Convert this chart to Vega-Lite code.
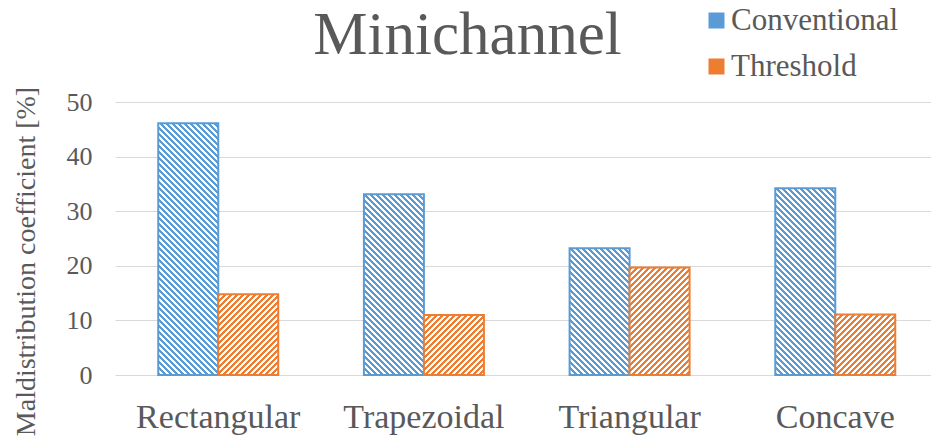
{
  "$schema": "https://vega.github.io/schema/vega-lite/v6.json",
  "width": 816,
  "height": 273,
  "autosize": {"type": "none"},
  "padding": {"left": 115, "top": 102, "right": 0, "bottom": 62},
  "background": "white",
  "params": [
    {"name": "hs", "value": [
      {"offset":0,"color":"transparent"},{"offset":0.009375,"color":"transparent"},{"offset":0.009375,"color":"#fff"},{"offset":0.01875,"color":"#fff"},
      {"offset":0.01875,"color":"transparent"},{"offset":0.028125,"color":"transparent"},{"offset":0.028125,"color":"#fff"},{"offset":0.0375,"color":"#fff"},
      {"offset":0.0375,"color":"transparent"},{"offset":0.046875,"color":"transparent"},{"offset":0.046875,"color":"#fff"},{"offset":0.05625,"color":"#fff"},
      {"offset":0.05625,"color":"transparent"},{"offset":0.065625,"color":"transparent"},{"offset":0.065625,"color":"#fff"},{"offset":0.075,"color":"#fff"},
      {"offset":0.075,"color":"transparent"},{"offset":0.084375,"color":"transparent"},{"offset":0.084375,"color":"#fff"},{"offset":0.09375,"color":"#fff"},
      {"offset":0.09375,"color":"transparent"},{"offset":0.103125,"color":"transparent"},{"offset":0.103125,"color":"#fff"},{"offset":0.1125,"color":"#fff"},
      {"offset":0.1125,"color":"transparent"},{"offset":0.121875,"color":"transparent"},{"offset":0.121875,"color":"#fff"},{"offset":0.13125,"color":"#fff"},
      {"offset":0.13125,"color":"transparent"},{"offset":0.140625,"color":"transparent"},{"offset":0.140625,"color":"#fff"},{"offset":0.15,"color":"#fff"},
      {"offset":0.15,"color":"transparent"},{"offset":0.159375,"color":"transparent"},{"offset":0.159375,"color":"#fff"},{"offset":0.16875,"color":"#fff"},
      {"offset":0.16875,"color":"transparent"},{"offset":0.178125,"color":"transparent"},{"offset":0.178125,"color":"#fff"},{"offset":0.1875,"color":"#fff"},
      {"offset":0.1875,"color":"transparent"},{"offset":0.196875,"color":"transparent"},{"offset":0.196875,"color":"#fff"},{"offset":0.20625,"color":"#fff"},
      {"offset":0.20625,"color":"transparent"},{"offset":0.215625,"color":"transparent"},{"offset":0.215625,"color":"#fff"},{"offset":0.225,"color":"#fff"},
      {"offset":0.225,"color":"transparent"},{"offset":0.234375,"color":"transparent"},{"offset":0.234375,"color":"#fff"},{"offset":0.24375,"color":"#fff"},
      {"offset":0.24375,"color":"transparent"},{"offset":0.253125,"color":"transparent"},{"offset":0.253125,"color":"#fff"},{"offset":0.2625,"color":"#fff"},
      {"offset":0.2625,"color":"transparent"},{"offset":0.271875,"color":"transparent"},{"offset":0.271875,"color":"#fff"},{"offset":0.28125,"color":"#fff"},
      {"offset":0.28125,"color":"transparent"},{"offset":0.290625,"color":"transparent"},{"offset":0.290625,"color":"#fff"},{"offset":0.3,"color":"#fff"},
      {"offset":0.3,"color":"transparent"},{"offset":0.309375,"color":"transparent"},{"offset":0.309375,"color":"#fff"},{"offset":0.31875,"color":"#fff"},
      {"offset":0.31875,"color":"transparent"},{"offset":0.328125,"color":"transparent"},{"offset":0.328125,"color":"#fff"},{"offset":0.3375,"color":"#fff"},
      {"offset":0.3375,"color":"transparent"},{"offset":0.346875,"color":"transparent"},{"offset":0.346875,"color":"#fff"},{"offset":0.35625,"color":"#fff"},
      {"offset":0.35625,"color":"transparent"},{"offset":0.365625,"color":"transparent"},{"offset":0.365625,"color":"#fff"},{"offset":0.375,"color":"#fff"},
      {"offset":0.375,"color":"transparent"},{"offset":0.384375,"color":"transparent"},{"offset":0.384375,"color":"#fff"},{"offset":0.39375,"color":"#fff"},
      {"offset":0.39375,"color":"transparent"},{"offset":0.403125,"color":"transparent"},{"offset":0.403125,"color":"#fff"},{"offset":0.4125,"color":"#fff"},
      {"offset":0.4125,"color":"transparent"},{"offset":0.421875,"color":"transparent"},{"offset":0.421875,"color":"#fff"},{"offset":0.43125,"color":"#fff"},
      {"offset":0.43125,"color":"transparent"},{"offset":0.440625,"color":"transparent"},{"offset":0.440625,"color":"#fff"},{"offset":0.45,"color":"#fff"},
      {"offset":0.45,"color":"transparent"},{"offset":0.459375,"color":"transparent"},{"offset":0.459375,"color":"#fff"},{"offset":0.46875,"color":"#fff"},
      {"offset":0.46875,"color":"transparent"},{"offset":0.478125,"color":"transparent"},{"offset":0.478125,"color":"#fff"},{"offset":0.4875,"color":"#fff"},
      {"offset":0.4875,"color":"transparent"},{"offset":0.496875,"color":"transparent"},{"offset":0.496875,"color":"#fff"},{"offset":0.50625,"color":"#fff"},
      {"offset":0.50625,"color":"transparent"},{"offset":0.515625,"color":"transparent"},{"offset":0.515625,"color":"#fff"},{"offset":0.525,"color":"#fff"},
      {"offset":0.525,"color":"transparent"},{"offset":0.534375,"color":"transparent"},{"offset":0.534375,"color":"#fff"},{"offset":0.54375,"color":"#fff"},
      {"offset":0.54375,"color":"transparent"},{"offset":0.553125,"color":"transparent"},{"offset":0.553125,"color":"#fff"},{"offset":0.5625,"color":"#fff"},
      {"offset":0.5625,"color":"transparent"},{"offset":0.571875,"color":"transparent"},{"offset":0.571875,"color":"#fff"},{"offset":0.58125,"color":"#fff"},
      {"offset":0.58125,"color":"transparent"},{"offset":0.590625,"color":"transparent"},{"offset":0.590625,"color":"#fff"},{"offset":0.6,"color":"#fff"},
      {"offset":0.6,"color":"transparent"},{"offset":0.609375,"color":"transparent"},{"offset":0.609375,"color":"#fff"},{"offset":0.61875,"color":"#fff"},
      {"offset":0.61875,"color":"transparent"},{"offset":0.628125,"color":"transparent"},{"offset":0.628125,"color":"#fff"},{"offset":0.6375,"color":"#fff"},
      {"offset":0.6375,"color":"transparent"},{"offset":0.646875,"color":"transparent"},{"offset":0.646875,"color":"#fff"},{"offset":0.65625,"color":"#fff"},
      {"offset":0.65625,"color":"transparent"},{"offset":0.665625,"color":"transparent"},{"offset":0.665625,"color":"#fff"},{"offset":0.675,"color":"#fff"},
      {"offset":0.675,"color":"transparent"},{"offset":0.684375,"color":"transparent"},{"offset":0.684375,"color":"#fff"},{"offset":0.69375,"color":"#fff"},
      {"offset":0.69375,"color":"transparent"},{"offset":0.703125,"color":"transparent"},{"offset":0.703125,"color":"#fff"},{"offset":0.7125,"color":"#fff"},
      {"offset":0.7125,"color":"transparent"},{"offset":0.721875,"color":"transparent"},{"offset":0.721875,"color":"#fff"},{"offset":0.73125,"color":"#fff"},
      {"offset":0.73125,"color":"transparent"},{"offset":0.740625,"color":"transparent"},{"offset":0.740625,"color":"#fff"},{"offset":0.75,"color":"#fff"},
      {"offset":0.75,"color":"transparent"},{"offset":0.759375,"color":"transparent"},{"offset":0.759375,"color":"#fff"},{"offset":0.76875,"color":"#fff"},
      {"offset":0.76875,"color":"transparent"},{"offset":0.778125,"color":"transparent"},{"offset":0.778125,"color":"#fff"},{"offset":0.7875,"color":"#fff"},
      {"offset":0.7875,"color":"transparent"},{"offset":0.796875,"color":"transparent"},{"offset":0.796875,"color":"#fff"},{"offset":0.80625,"color":"#fff"},
      {"offset":0.80625,"color":"transparent"},{"offset":0.815625,"color":"transparent"},{"offset":0.815625,"color":"#fff"},{"offset":0.825,"color":"#fff"},
      {"offset":0.825,"color":"transparent"},{"offset":0.834375,"color":"transparent"},{"offset":0.834375,"color":"#fff"},{"offset":0.84375,"color":"#fff"},
      {"offset":0.84375,"color":"transparent"},{"offset":0.853125,"color":"transparent"},{"offset":0.853125,"color":"#fff"},{"offset":0.8625,"color":"#fff"},
      {"offset":0.8625,"color":"transparent"},{"offset":0.871875,"color":"transparent"},{"offset":0.871875,"color":"#fff"},{"offset":0.88125,"color":"#fff"},
      {"offset":0.88125,"color":"transparent"},{"offset":0.890625,"color":"transparent"},{"offset":0.890625,"color":"#fff"},{"offset":0.9,"color":"#fff"},
      {"offset":0.9,"color":"transparent"},{"offset":0.909375,"color":"transparent"},{"offset":0.909375,"color":"#fff"},{"offset":0.91875,"color":"#fff"},
      {"offset":0.91875,"color":"transparent"},{"offset":0.928125,"color":"transparent"},{"offset":0.928125,"color":"#fff"},{"offset":0.9375,"color":"#fff"},
      {"offset":0.9375,"color":"transparent"},{"offset":0.946875,"color":"transparent"},{"offset":0.946875,"color":"#fff"},{"offset":0.95625,"color":"#fff"},
      {"offset":0.95625,"color":"transparent"},{"offset":0.965625,"color":"transparent"},{"offset":0.965625,"color":"#fff"},{"offset":0.975,"color":"#fff"},
      {"offset":0.975,"color":"transparent"},{"offset":0.984375,"color":"transparent"},{"offset":0.984375,"color":"#fff"},{"offset":0.99375,"color":"#fff"},
      {"offset":0.99375,"color":"transparent"},{"offset":1,"color":"transparent"}
    ]}
  ],
  "title": {
    "text": "Minichannel",
    "font": "Liberation Serif, Times New Roman, Times, serif",
    "fontSize": 61,
    "fontWeight": "normal",
    "color": "#595959",
    "anchor": "middle",
    "frame": "group",
    "baseline": "alphabetic",
    "offset": -110,
    "dx": -55.5
  },
  "data": {
    "values": [
      {"shape": "Rectangular", "series": "Conventional", "value": 46.1},
      {"shape": "Rectangular", "series": "Threshold", "value": 14.8},
      {"shape": "Trapezoidal", "series": "Conventional", "value": 33.1},
      {"shape": "Trapezoidal", "series": "Threshold", "value": 11.0},
      {"shape": "Triangular", "series": "Conventional", "value": 23.2},
      {"shape": "Triangular", "series": "Threshold", "value": 19.7},
      {"shape": "Concave", "series": "Conventional", "value": 34.2},
      {"shape": "Concave", "series": "Threshold", "value": 11.1}
    ]
  },
  "encoding": {
    "x": {
      "field": "shape",
      "type": "nominal",
      "sort": ["Rectangular", "Trapezoidal", "Triangular", "Concave"],
      "scale": {"paddingInner": 0.4166, "paddingOuter": 0.192, "align": 0.5475},
      "axis": {
        "title": null,
        "labelAngle": 0,
        "labelFont": "Liberation Serif, Times New Roman, Times, serif",
        "labelFontSize": 34,
        "labelColor": "#595959",
        "labelPadding": 25,
        "ticks": false,
        "domain": false,
        "grid": false
      }
    },
    "xOffset": {
      "field": "series",
      "type": "nominal",
      "sort": ["Conventional", "Threshold"],
      "scale": {"paddingInner": 0, "paddingOuter": 0}
    },
    "y": {
      "field": "value",
      "type": "quantitative",
      "scale": {"domain": [0, 50], "nice": false},
      "axis": {
        "values": [0, 10, 20, 30, 40, 50],
        "title": "Maldistribution coefficient [%]",
        "titleFont": "Liberation Serif, Times New Roman, Times, serif",
        "titleFontSize": 28,
        "titleFontWeight": "normal",
        "titleColor": "#595959",
        "titleX": -89,
        "titleY": 159,
        "titleBaseline": "middle",
        "labelFont": "Liberation Serif, Times New Roman, Times, serif",
        "labelFontSize": 26,
        "labelColor": "#595959",
        "labelPadding": 23,
        "ticks": false,
        "domain": false,
        "grid": true,
        "gridColor": "#D9D9D9",
        "gridWidth": 1
      }
    }
  },
  "layer": [
    {
      "mark": {"type": "bar"},
      "encoding": {
        "color": {
          "field": "series",
          "type": "nominal",
          "scale": {"domain": ["Conventional", "Threshold"], "range": ["#5B9BD5", "#ED7D31"]},
          "legend": {
            "title": null,
            "orient": "none",
            "legendX": 586,
            "legendY": -97,
            "padding": 0,
            "symbolType": "square",
            "symbolSize": 256,
            "symbolStrokeWidth": 0,
            "labelFont": "Liberation Serif, Times New Roman, Times, serif",
            "labelFontSize": 31,
            "labelColor": "#595959",
            "labelOffset": -1,
            "labelLimit": 400,
            "rowPadding": 14
          }
        }
      }
    },
    {
      "mark": {
        "type": "bar",
        "strokeWidth": 2,
        "fill": {"expr": "{gradient:'linear',x1:0,y1:datum.series=='Conventional'?1:0,x2:19200/(3600+pow(5.46*datum.value,2)),y2:datum.series=='Conventional'?1-320*5.46*datum.value/(3600+pow(5.46*datum.value,2)):320*5.46*datum.value/(3600+pow(5.46*datum.value,2)),stops:hs}"}
      },
      "encoding": {
        "stroke": {
          "field": "series",
          "type": "nominal",
          "scale": {"domain": ["Conventional", "Threshold"], "range": ["#5B9BD5", "#ED7D31"]},
          "legend": null
        }
      }
    }
  ],
  "config": {
    "view": {"stroke": null},
    "font": "Liberation Serif, Times New Roman, Times, serif"
  }
}
